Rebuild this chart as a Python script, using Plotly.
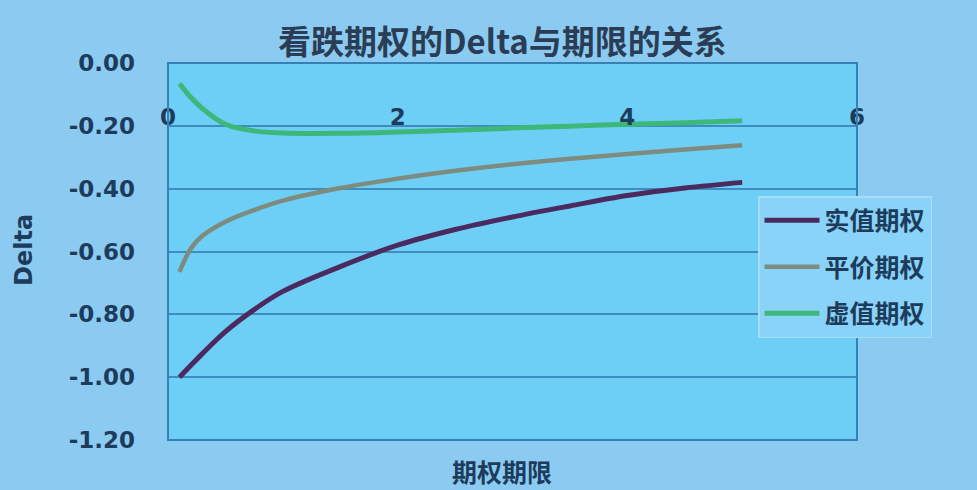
import plotly.graph_objects as go

# Data
maturity = [0.1, 0.2, 0.3, 0.5, 0.75, 1.0, 1.5, 2.0, 2.5, 3.0, 3.5, 4.0, 4.5, 5.0]
delta_itm = [-1.00, -0.962, -0.925, -0.855, -0.785, -0.727, -0.648, -0.58, -0.53, -0.49, -0.455, -0.422, -0.398, -0.38]
delta_atm = [-0.665, -0.59, -0.55, -0.505, -0.468, -0.438, -0.398, -0.368, -0.343, -0.322, -0.305, -0.29, -0.275, -0.262]
delta_otm = [-0.065, -0.11, -0.145, -0.195, -0.216, -0.223, -0.224, -0.22, -0.214, -0.207, -0.201, -0.195, -0.19, -0.184]
series_names = ["实值期权", "平价期权", "虚值期权"]

y_tick_vals = [0.0, -0.2, -0.4, -0.6, -0.8, -1.0, -1.2]
y_tick_text = ["0.00", "-0.20", "-0.40", "-0.60", "-0.80", "-1.00", "-1.20"]
x_tick_vals = [0, 2, 4, 6]
x_tick_text = ["0", "2", "4", "6"]

title_text = "看跌期权的Delta与期限的关系"
x_title = "期权期限"
y_title = "Delta"

TEXT = "#1d3c5c"
CJK = "Noto Sans CJK SC"
NUM = "DejaVu Sans"

fig = go.Figure()
colors = ["#4b2a60", "#7d8c7e", "#3db87a"]
widths = [5, 4.5, 5]
for i, (name, vals, c, w) in enumerate(zip(series_names, [delta_itm, delta_atm, delta_otm], colors, widths)):
    fig.add_trace(go.Scatter(x=maturity, y=vals, mode="lines", name=name, legendgroup=f"g{i}",
                             line=dict(color=c, width=w, shape="spline", smoothing=1.0)))

W, H = 977, 490
ml, mr, mt, mb = 168, 120, 63, 50
pw = W - ml - mr
ph = H - mt - mb

def px_x(x):
    return (x - ml) / pw

def px_y(y):
    return (H - mb - y) / ph

fig.update_layout(
    width=W, height=H,
    margin=dict(l=ml, r=mr, t=mt, b=mb),
    paper_bgcolor="#8ccbf1",
    plot_bgcolor="#6dcff6",
    showlegend=True,
    legend=dict(x=px_x(758), y=px_y(196), xanchor="left", yanchor="top",
                bgcolor="#88d3f7", bordercolor="#a9dcf5", borderwidth=1.5,
                font=dict(family=CJK, size=25, color=TEXT, weight="bold"),
                itemwidth=55, tracegroupgap=11),
    xaxis=dict(range=[0, 6], tickvals=x_tick_vals, ticktext=x_tick_text,
               anchor="free", position=px_y(101), side="bottom",
               showline=False, showgrid=False, zeroline=False, ticks="",
               tickfont=dict(family=NUM, size=23, color=TEXT, weight="bold")),
    yaxis=dict(range=[-1.2, 0], tickvals=y_tick_vals, ticktext=y_tick_text,
               showgrid=True, gridcolor="#3f8cc0", gridwidth=1.5, zeroline=False,
               showline=False, ticks="", ticklabelstandoff=32,
               tickfont=dict(family=NUM, size=23, color=TEXT, weight="bold")),
    shapes=[dict(type="rect", xref="paper", yref="paper", x0=0, x1=1, y0=0, y1=1,
                 line=dict(color="#3580b5", width=2), layer="above")],
    annotations=[
        dict(text=title_text, xref="paper", yref="paper", x=px_x(502),
             y=px_y(40), showarrow=False, xanchor="center", yanchor="middle",
             font=dict(family=CJK, size=33, color="#2a3d55", weight="bold")),
        dict(text=x_title, xref="paper", yref="paper", x=px_x(502),
             y=px_y(471), showarrow=False, xanchor="center", yanchor="middle",
             font=dict(family=CJK, size=25, color=TEXT, weight="bold")),
        dict(text=y_title, xref="paper", yref="paper", x=px_x(24),
             y=px_y(250), showarrow=False, xanchor="center", yanchor="middle",
             textangle=-90,
             font=dict(family=NUM, size=24, color=TEXT, weight="bold")),
    ],
)

fig.write_html("out.html", config={"displayModeBar": False},
               post_script="document.body.style.margin='0';document.body.style.overflow='hidden';")
